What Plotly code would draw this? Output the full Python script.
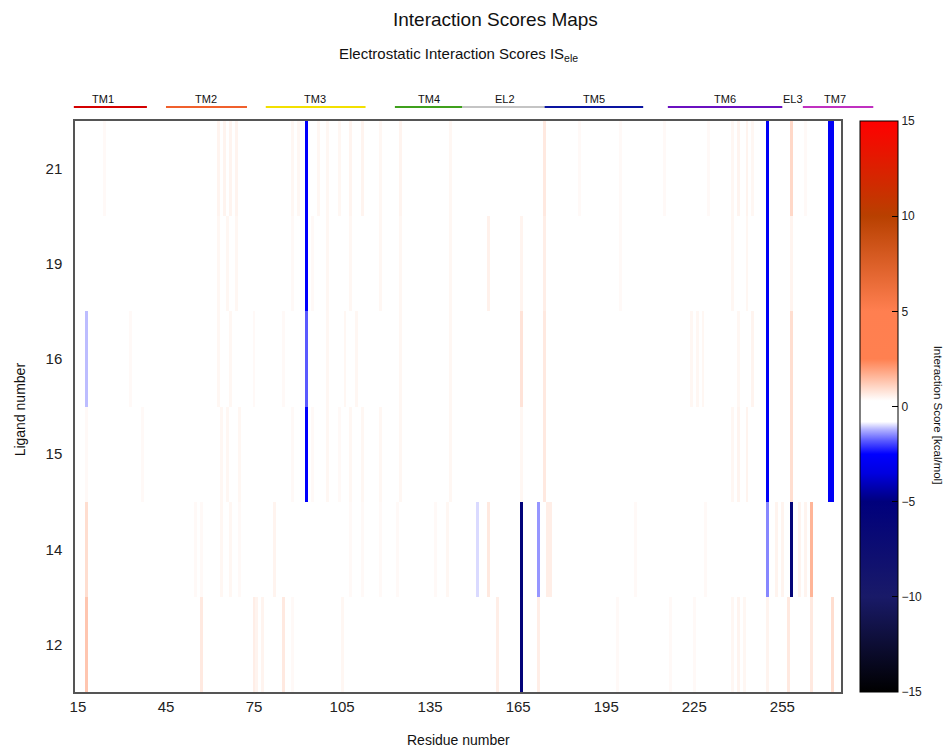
import plotly.graph_objects as go
import numpy as np

# ---------------- data ----------------
ligands = ["12", "14", "15", "16", "19", "21"]          # bottom -> top
res_first, res_last = 15, 274
x_ticks = [15, 45, 75, 105, 135, 165, 195, 225, 255]
cbar_ticks = [-15, -10, -5, 0, 5, 10, 15]

# non-zero electrostatic scores per ligand (residue, kcal/mol)
lig12_res = [18, 57, 75, 76, 78, 85, 88, 105, 158, 166, 172, 199, 217, 225, 238, 240, 242, 250, 257, 265, 272]
lig12_val = [1.3, 0.7, 0.6, 0.5, 0.5, 0.7, 0.4, 0.45, 0.6, -5.8, 0.6, 0.4, 0.4, 0.4, 0.45, 0.5, 0.45, 0.5, 0.7, 0.7, 0.9]

lig14_res = [18, 55, 57, 64, 67, 70, 82, 108, 112, 118, 124, 137, 141, 151, 155, 166, 172, 175, 176, 205, 229, 250, 253, 255, 258, 261, 263, 265]
lig14_val = [0.9, 0.4, 0.4, 0.45, 0.45, 0.4, 0.5, 0.4, 0.4, 0.4, 0.4, 0.4, 0.45, -1.0, 0.7, -5.5, -1.4, 0.6, 0.6, 0.4, 0.4, -1.5, 0.5, 0.5, -6.0, 0.5, 0.5, 1.6]

lig15_res = [18, 37, 64, 66, 70, 88, 93, 95, 100, 104, 108, 112, 118, 125, 142, 166, 174, 238, 240, 243, 250, 258, 271, 272]
lig15_val = [0.4, 0.4, 0.45, 0.45, 0.45, 0.4, -2.6, 0.4, 0.45, 0.4, 0.45, 0.45, 0.45, 0.45, 0.45, 0.45, 0.7, 0.45, 0.5, 0.5, -2.8, 0.9, -2.8, -2.8]

lig16_res = [18, 33, 63, 67, 75, 85, 93, 100, 106, 110, 125, 142, 166, 174, 224, 226, 228, 240, 245, 250, 258, 271, 272]
lig16_val = [-1.15, 0.4, 0.45, 0.45, 0.4, 0.4, -1.8, 0.45, 0.45, 0.45, 0.45, 0.45, 0.8, 0.7, 0.45, 0.45, 0.45, 0.45, 0.5, -2.8, 0.9, -2.8, -2.8]

lig19_res = [63, 66, 69, 88, 93, 95, 100, 108, 118, 125, 142, 155, 166, 174, 200, 238, 243, 250, 258, 271, 272]
lig19_val = [0.45, 0.45, 0.45, 0.4, -2.6, 0.4, 0.45, 0.45, 0.45, 0.45, 0.45, 0.55, 0.5, 0.6, 0.4, 0.45, 0.45, -2.8, 0.5, -2.8, -2.8]

lig21_res = [24, 63, 65, 67, 69, 88, 90, 93, 97, 100, 104, 108, 112, 118, 125, 142, 174, 186, 200, 215, 230, 238, 240, 243, 245, 250, 258, 263, 271, 272]
lig21_val = [0.4, 0.5, 0.5, 0.5, 0.5, 0.45, 0.45, -2.6, 0.45, 0.45, 0.45, 0.5, 0.5, 0.45, 0.5, 0.45, 0.7, 0.4, 0.4, 0.4, 0.4, 0.45, 0.5, 0.5, 0.45, -2.8, 1.0, 0.4, -2.8, -2.8]

# helix / loop segments drawn above the map (residue ranges)
seg_names = ["TM1", "TM2", "TM3", "TM4", "EL2", "TM5", "TM6", "EL3", "TM7"]
seg_label_res = [23.5, 58.6, 95.8, 134.7, 160.6, 191.0, 235.6, 258.8, 272.8]
seg_start = [13.6, 45.0, 79.0, 123.0, 146.0, 174.0, 216.0, None, 262.0]
seg_end = [38.5, 72.6, 113.0, 146.0, 174.0, 207.6, 255.0, None, 286.0]
seg_colors = ["#d40000", "#f0602c", "#f2e000", "#3fa01c", "#c4c4c4", "#0a14a0", "#6a10c0", None, "#c030c0"]

# ---------------- build matrix ----------------
residues = list(range(res_first, res_last + 1))
all_res = [lig12_res, lig14_res, lig15_res, lig16_res, lig19_res, lig21_res]
all_val = [lig12_val, lig14_val, lig15_val, lig16_val, lig19_val, lig21_val]
z = np.zeros((len(ligands), len(residues)))
for i, (rr, vv) in enumerate(zip(all_res, all_val)):
    for r, v in zip(rr, vv):
        z[i, r - res_first] = v

zmin, zmax = -15, 15
def nz(v):
    return (v - zmin) / (zmax - zmin)

colorscale = [
    [nz(-15), "#000000"],
    [nz(-10), "#191a68"],
    [nz(-5), "#00007c"],
    [nz(-3.5), "#0000e0"],
    [nz(-2.5), "#0000ff"],
    [nz(-1.8), "#5a5aff"],
    [nz(-1.2), "#b4b4ff"],
    [nz(-0.8), "#ffffff"],
    [nz(0.3), "#ffffff"],
    [nz(1.0), "#ffd8c8"],
    [nz(2.5), "#ff8050"],
    [nz(5), "#ff7f50"],
    [nz(10), "#b84000"],
    [nz(15), "#ff0000"],
]

FONT = "Liberation Sans, Arial, sans-serif"
x_lo, x_hi = 14, 275

fig = go.Figure(go.Heatmap(
    z=z, x=residues, y=list(range(len(ligands))),
    zmin=zmin, zmax=zmax, colorscale=colorscale,
    colorbar=dict(
        x=1.0248, xanchor="left", y=0.5, yanchor="middle",
        len=1.0, lenmode="fraction", thickness=38,
        outlinewidth=1, outlinecolor="#000",
        tickvals=cbar_ticks, ticks="inside", ticklen=6, tickcolor="#000",
        tickfont=dict(family=FONT, size=12, color="#222"),
        ypad=0, xpad=0,
    ),
    hoverongaps=False,
))

# segment lines and labels
def px(r):
    return (r - x_lo) / (x_hi - x_lo)

for name, lr, s, e, c in zip(seg_names, seg_label_res, seg_start, seg_end, seg_colors):
    if s is not None:
        fig.add_shape(type="line", xref="paper", yref="paper",
                      x0=px(s), x1=px(e), y0=1.0245, y1=1.0245,
                      line=dict(color=c, width=2))
    fig.add_annotation(text=name, xref="paper", yref="paper",
                       x=px(lr), y=1.0385, showarrow=False,
                       xanchor="center", yanchor="middle",
                       font=dict(family=FONT, size=11, color="#111"))

def note(text, x, y, size, angle=0):
    fig.add_annotation(text=text, xref="paper", yref="paper", x=x, y=y,
                       showarrow=False, xanchor="center", yanchor="middle",
                       textangle=angle, font=dict(family=FONT, size=size, color="#111"))

note("Interaction Scores Maps", 0.5496, 1.177, 19)
note("Electrostatic Interaction Scores IS<sub>ele</sub>", 0.501, 1.1156, 15)
note("Residue number", 0.501, -0.084, 14)
note("Ligand number", -0.0718, 0.495, 14, -90)
note("Interaction Score [kcal/mol]", 1.1266, 0.484, 11.5, 90)

fig.update_layout(
    width=947, height=749,
    margin=dict(l=75, r=106, t=121, b=57),
    paper_bgcolor="white", plot_bgcolor="white",
    xaxis=dict(range=[x_lo, x_hi], tickvals=x_ticks, showgrid=False, zeroline=False,
               showline=True, mirror=True, linecolor="#555", linewidth=1.5,
               ticks="", tickfont=dict(family=FONT, size=15, color="#222")),
    yaxis=dict(range=[-0.5, len(ligands) - 0.5], tickvals=list(range(len(ligands))),
               ticktext=ligands, showgrid=False, zeroline=False,
               showline=True, mirror=True, linecolor="#555", linewidth=1.5,
               ticks="", ticklabelstandoff=8,
               tickfont=dict(family=FONT, size=15, color="#222")),
    showlegend=False,
)

# remove the default 8px page margin so the figure fills the window exactly
fig.write_html("out.html",
               config={"displayModeBar": False},
               post_script="document.body.style.margin='0';document.body.style.overflow='hidden';")
